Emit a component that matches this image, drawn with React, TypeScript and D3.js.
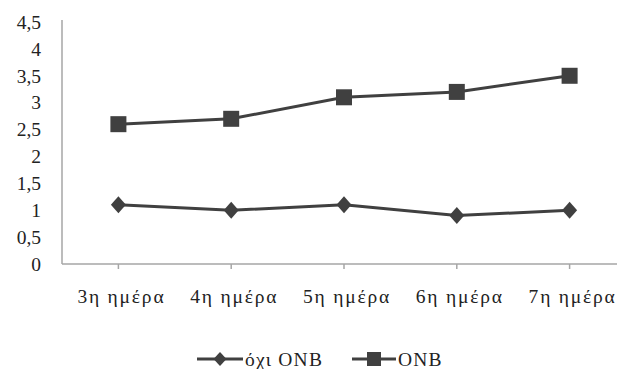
import React from "react";
import * as d3 from "d3";

const categories = ["3η ημέρα", "4η ημέρα", "5η ημέρα", "6η ημέρα", "7η ημέρα"];
const notOnbValues = [1.1, 1.0, 1.1, 0.9, 1.0];
const onbValues = [2.6, 2.7, 3.1, 3.2, 3.5];
const yTicks = [0, 0.5, 1, 1.5, 2, 2.5, 3, 3.5, 4, 4.5];
const seriesNames = ["όχι ONB", "ONB"];

const W = 626;
const H = 369;
const left = 62;
const right = 626;
const top = 22;
const bottom = 264;
const ink = "#404040";
const axisGrey = "#a6a6a6";
const font = "Liberation Serif, DejaVu Serif, serif";

const fmt = (v: number) => String(v).replace(".", ",");

export default function App() {
  const x = d3.scaleBand<string>().domain(categories).range([left, right]);
  const y = d3.scaleLinear().domain([0, 4.5]).range([bottom, top]);
  const cx = (c: string) => (x(c) ?? 0) + x.bandwidth() / 2;

  const line = d3
    .line<number>()
    .x((_, i) => cx(categories[i]))
    .y((d) => y(d));

  const diamond = (px: number, py: number, w = 7.5, h = 8.5) =>
    `M${px},${py - h}L${px + w},${py}L${px},${py + h}L${px - w},${py}Z`;

  const textStyle = { fontFamily: font };

  return (
    <svg
      width={W}
      height={H}
      style={{ position: "absolute", left: 0, top: 0, background: "#fff" }}
    >
      {/* axes */}
      <line x1={left} x2={left} y1={20} y2={bottom} stroke={axisGrey} strokeWidth={1.5} />
      <line x1={left} x2={617} y1={bottom} y2={bottom} stroke={axisGrey} strokeWidth={1.5} />
      {categories.map((c) => (
        <line key={c} x1={cx(c)} x2={cx(c)} y1={bottom} y2={bottom + 5} stroke={axisGrey} strokeWidth={1.5} />
      ))}

      {/* y tick labels */}
      {yTicks.map((t) => (
        <text key={t} x={41} y={y(t)} dy="0.35em" textAnchor="end" fontSize={19.5} fill="#222" style={textStyle}>
          {fmt(t)}
        </text>
      ))}

      {/* x tick labels */}
      {categories.map((c) => (
        <text
          key={c}
          x={cx(c) + 3}
          y={303}
          textAnchor="middle"
          fontSize={19.5}
          letterSpacing={1.8}
          fill="#222"
          style={textStyle}
        >
          {c}
        </text>
      ))}

      {/* series lines */}
      <path d={line(notOnbValues) ?? ""} fill="none" stroke={ink} strokeWidth={3} />
      <path d={line(onbValues) ?? ""} fill="none" stroke={ink} strokeWidth={3} />

      {/* markers */}
      {notOnbValues.map((v, i) => (
        <path key={"d" + i} d={diamond(cx(categories[i]), y(v))} fill={ink} />
      ))}
      {onbValues.map((v, i) => (
        <rect key={"s" + i} x={cx(categories[i]) - 8} y={y(v) - 8} width={16} height={16} fill={ink} />
      ))}

      {/* legend */}
      <g>
        <line x1={197} x2={243} y1={359} y2={359} stroke={ink} strokeWidth={3} />
        <path d={diamond(220, 359, 6.5, 7)} fill={ink} />
        <text x={245} y={359} dy="0.35em" fontSize={19.5} letterSpacing={1.2} fill="#222" style={textStyle}>
          {seriesNames[0]}
        </text>
        <line x1={352} x2={396} y1={359} y2={359} stroke={ink} strokeWidth={3} />
        <rect x={367} y={352} width={14} height={14} fill={ink} />
        <text x={398} y={359} dy="0.35em" fontSize={19.5} letterSpacing={1.2} fill="#222" style={textStyle}>
          {seriesNames[1]}
        </text>
      </g>
    </svg>
  );
}
